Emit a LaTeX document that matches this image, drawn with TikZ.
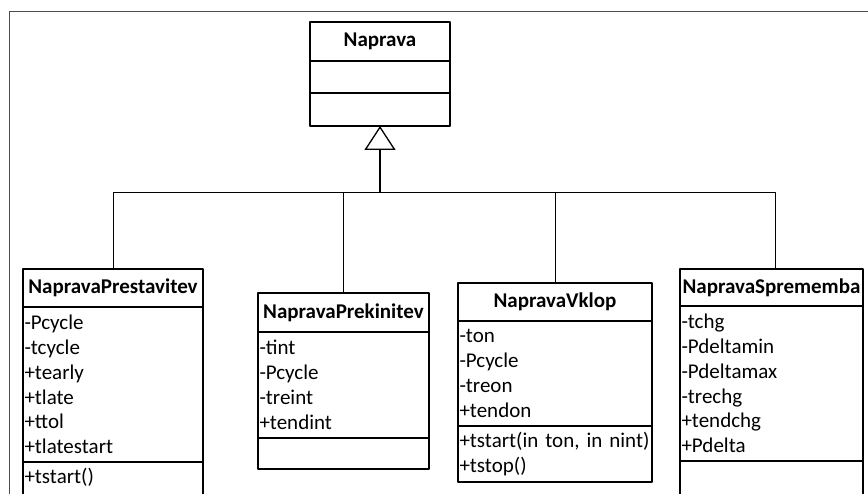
\documentclass[tikz,border=0pt]{standalone}
\usepackage{fontspec}
\setmainfont{Carlito}
\usetikzlibrary{positioning,arrows.meta}

\begin{document}
\begin{tikzpicture}[x=1pt,y=-1pt,line cap=round,line join=round,
  box/.style={draw,line width=1.3pt,outer sep=0pt,inner sep=0pt,
    font=\fontsize{21}{24.8}\selectfont},
  title/.style={box,font=\bfseries\fontsize{21}{24.8}\selectfont},
  part/.style={box,align=left,inner xsep=1.5pt},
  link/.style={line width=0.9pt}]
\useasboundingbox (0,0) rectangle (868,494);
\clip (0,0) rectangle (868,494);
\path
(380,192) coordinate (bus)
;
\draw[gray!60!black,line width=1pt] (9,500) -- (9,12) -- (870,12);
% parent class
\node[title,minimum width=140pt,minimum height=39pt] (naprava) at (380,41.5) {Naprava};
\node[box,minimum width=140pt,minimum height=32pt,below=0pt of naprava] (napravaA) {};
\node[box,minimum width=140pt,minimum height=33pt,below=0pt of napravaA] (napravaM) {};
% subclasses
\node[title,minimum width=180pt,minimum height=38pt] (prest) at (113,288) {NapravaPrestavitev};
\node[part,text width=177pt,minimum height=155pt,below=0pt of prest] (prestA)
  {-Pcycle\\-tcycle\\+tearly\\+tlate\\+ttol\\+tlatestart};
\node[part,text width=177pt,minimum height=60pt,below=0pt of prestA] (prestM)
  {+tstart()\\ \strut};
\node[title,minimum width=171pt,minimum height=39pt] (prek) at (343.5,312.5) {NapravaPrekinitev};
\node[part,text width=168pt,minimum height=106pt,below=0pt of prek] (prekA)
  {-tint\\-Pcycle\\-treint\\+tendint};
\node[part,text width=168pt,minimum height=31pt,below=0pt of prekA] (prekM) {};
\node[title,minimum width=194pt,minimum height=38pt] (vklop) at (555,302) {NapravaVklop};
\node[part,text width=191pt,minimum height=105pt,below=0pt of vklop] (vklopA)
  {-ton\\-Pcycle\\-treon\\+tendon};
\node[part,text width=191pt,minimum height=56pt,below=0pt of vklopA] (vklopM)
  {+tstart(in ton, in nint)\\+tstop()};
\node[title,minimum width=183pt,minimum height=37pt] (sprem) at (771.5,287.5) {NapravaSprememba};
\node[part,text width=180pt,minimum height=155pt,below=0pt of sprem] (spremA)
  {-tchg\\-Pdeltamin\\-Pdeltamax\\-trechg\\+tendchg\\+Pdelta};
\node[part,text width=180pt,minimum height=50pt,below=0pt of spremA] (spremM) {};
% generalisation
\draw[link] (prest.north) |- (bus);
\draw[link] (prek.north) |- (bus);
\draw[link] (vklop.north) |- (bus);
\draw[link] ([xshift=3.5pt]sprem.north) |- (bus);
\draw[line width=1.3pt,-{Triangle[open,width=31pt,length=24pt]}] (bus) -- (napravaM.south);
\end{tikzpicture}
\end{document}
